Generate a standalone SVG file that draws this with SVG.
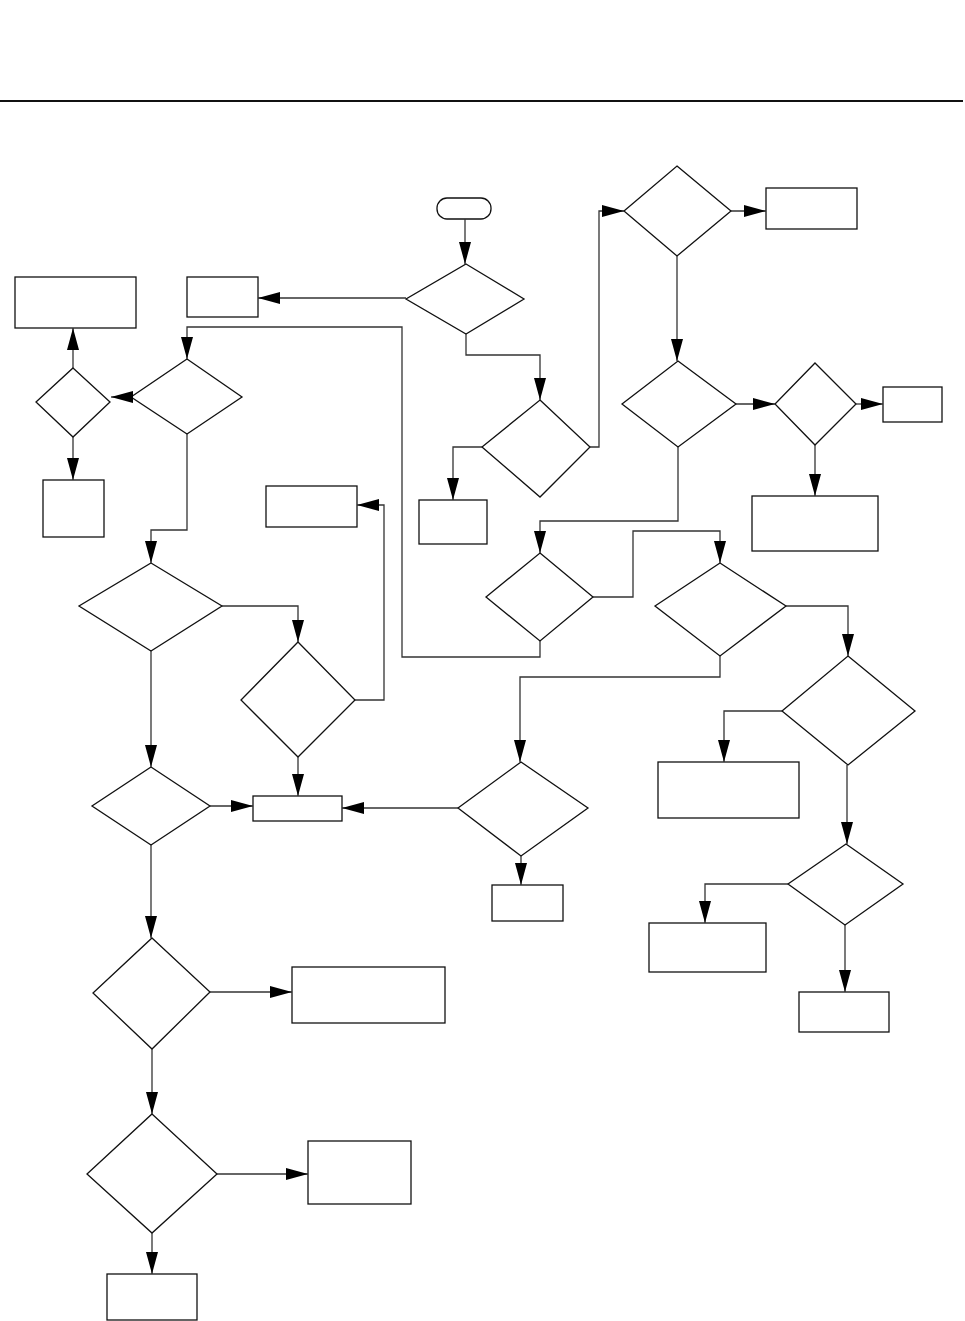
<svg xmlns="http://www.w3.org/2000/svg" width="965" height="1321" viewBox="0 0 965 1321">
<style>
.n{fill:#fff;stroke:#111;stroke-width:1.3}
.c{fill:none;stroke:#333;stroke-width:1.3}
</style>
<defs>
<marker id="a" markerUnits="userSpaceOnUse" markerWidth="22" markerHeight="12" refX="22" refY="6" orient="auto">
<path d="M0,0 L22,6 L0,12 z" fill="#000"/>
</marker>
</defs>
<rect width="965" height="1321" fill="#fff"/>
<line x1="0" y1="101" x2="963" y2="101" stroke="#111" stroke-width="2"/>
<g id="nodes">
<g id="start"><rect class="n" x="437" y="198" width="54" height="21" rx="10"/></g>
<g id="d1"><polygon class="n" points="466,264 524,299 466,334 406,299"/></g>
<g id="b1"><rect class="n" x="187" y="277" width="71" height="40"/></g>
<g id="b3"><rect class="n" x="15" y="277" width="121" height="51"/></g>
<g id="d3"><polygon class="n" points="187,359 242,397 187,434 131,397"/></g>
<g id="d4"><polygon class="n" points="73,368 110,402 73,437 36,402"/></g>
<g id="b4"><rect class="n" x="43" y="480" width="61" height="57"/></g>
<g id="d2"><polygon class="n" points="540,400 590,447 540,497 482,447"/></g>
<g id="b6"><rect class="n" x="419" y="500" width="68" height="44"/></g>
<g id="d8"><polygon class="n" points="677,166 731,211 677,256 624,211"/></g>
<g id="b7"><rect class="n" x="766" y="188" width="91" height="41"/></g>
<g id="d9"><polygon class="n" points="678,361 736,404 678,447 622,404"/></g>
<g id="d10"><polygon class="n" points="815,363 856,404 815,445 775,404"/></g>
<g id="b8"><rect class="n" x="883" y="387" width="59" height="35"/></g>
<g id="b9"><rect class="n" x="752" y="496" width="126" height="55"/></g>
<g id="b5"><rect class="n" x="266" y="486" width="91" height="41"/></g>
<g id="d5"><polygon class="n" points="540,553 593,597 540,641 486,597"/></g>
<g id="d6"><polygon class="n" points="151,563 222,606 151,651 79,606"/></g>
<g id="d7"><polygon class="n" points="298,642 355,700 298,757 241,700"/></g>
<g id="d11"><polygon class="n" points="720,563 786,606 720,656 655,606"/></g>
<g id="d12"><polygon class="n" points="848,656 915,711 848,765 782,711"/></g>
<g id="b10"><rect class="n" x="658" y="762" width="141" height="56"/></g>
<g id="d14"><polygon class="n" points="846,844 903,884 845,925 788,884"/></g>
<g id="b11"><rect class="n" x="649" y="923" width="117" height="49"/></g>
<g id="b12"><rect class="n" x="799" y="992" width="90" height="40"/></g>
<g id="d15"><polygon class="n" points="151,767 210,806 151,845 92,806"/></g>
<g id="b13"><rect class="n" x="253" y="796" width="89" height="25"/></g>
<g id="d13"><polygon class="n" points="521,762 588,808 521,856 458,808"/></g>
<g id="b14"><rect class="n" x="492" y="885" width="71" height="36"/></g>
<g id="d16"><polygon class="n" points="152,938 210,992 152,1049 93,993"/></g>
<g id="b15"><rect class="n" x="292" y="967" width="153" height="56"/></g>
<g id="d17"><polygon class="n" points="152,1114 217,1174 152,1233 87,1174"/></g>
<g id="b16"><rect class="n" x="308" y="1141" width="103" height="63"/></g>
<g id="b17"><rect class="n" x="107" y="1274" width="90" height="46"/></g>
</g>
<g id="connectors">
<polyline class="c" marker-end="url(#a)" points="465,219 465,264"/>
<polyline class="c" marker-end="url(#a)" points="406,298 258,298"/>
<polyline class="c" marker-end="url(#a)" points="466,334 466,355 540,355 540,400"/>
<polyline class="c" marker-end="url(#a)" points="482,447 453,447 453,500"/>
<polyline class="c" marker-end="url(#a)" points="590,447 599,447 599,211 624,211"/>
<polyline class="c" marker-end="url(#a)" points="731,211 766,211"/>
<polyline class="c" marker-end="url(#a)" points="677,256 677,361"/>
<polyline class="c" marker-end="url(#a)" points="736,404 775,404"/>
<polyline class="c" marker-end="url(#a)" points="856,404 883,404"/>
<polyline class="c" marker-end="url(#a)" points="815,445 815,496"/>
<polyline class="c" marker-end="url(#a)" points="678,447 678,521 540,521 540,553"/>
<polyline class="c" marker-end="url(#a)" points="593,597 633,597 633,531 720,531 720,563"/>
<polyline class="c" marker-end="url(#a)" points="540,641 540,657 402,657 402,327 187,327 187,359"/>
<polyline class="c" marker-end="url(#a)" points="131,397 111,397"/>
<polyline class="c" marker-end="url(#a)" points="73,368 73,328"/>
<polyline class="c" marker-end="url(#a)" points="73,437 73,480"/>
<polyline class="c" marker-end="url(#a)" points="187,434 187,530 151,530 151,563"/>
<polyline class="c" marker-end="url(#a)" points="222,606 298,606 298,642"/>
<polyline class="c" marker-end="url(#a)" points="355,700 384,700 384,505 357,505"/>
<polyline class="c" marker-end="url(#a)" points="298,757 298,796"/>
<polyline class="c" marker-end="url(#a)" points="151,651 151,767"/>
<polyline class="c" marker-end="url(#a)" points="210,806 253,806"/>
<polyline class="c" marker-end="url(#a)" points="458,808 342,808"/>
<polyline class="c" marker-end="url(#a)" points="786,606 848,606 848,656"/>
<polyline class="c" marker-end="url(#a)" points="720,656 720,677 520,677 520,762"/>
<polyline class="c" marker-end="url(#a)" points="782,711 724,711 724,762"/>
<polyline class="c" marker-end="url(#a)" points="847,765 847,844"/>
<polyline class="c" marker-end="url(#a)" points="788,884 705,884 705,923"/>
<polyline class="c" marker-end="url(#a)" points="845,925 845,992"/>
<polyline class="c" marker-end="url(#a)" points="521,856 521,885"/>
<polyline class="c" marker-end="url(#a)" points="151,845 151,938"/>
<polyline class="c" marker-end="url(#a)" points="210,992 292,992"/>
<polyline class="c" marker-end="url(#a)" points="152,1049 152,1114"/>
<polyline class="c" marker-end="url(#a)" points="217,1174 308,1174"/>
<polyline class="c" marker-end="url(#a)" points="152,1233 152,1274"/>
</g>
</svg>
